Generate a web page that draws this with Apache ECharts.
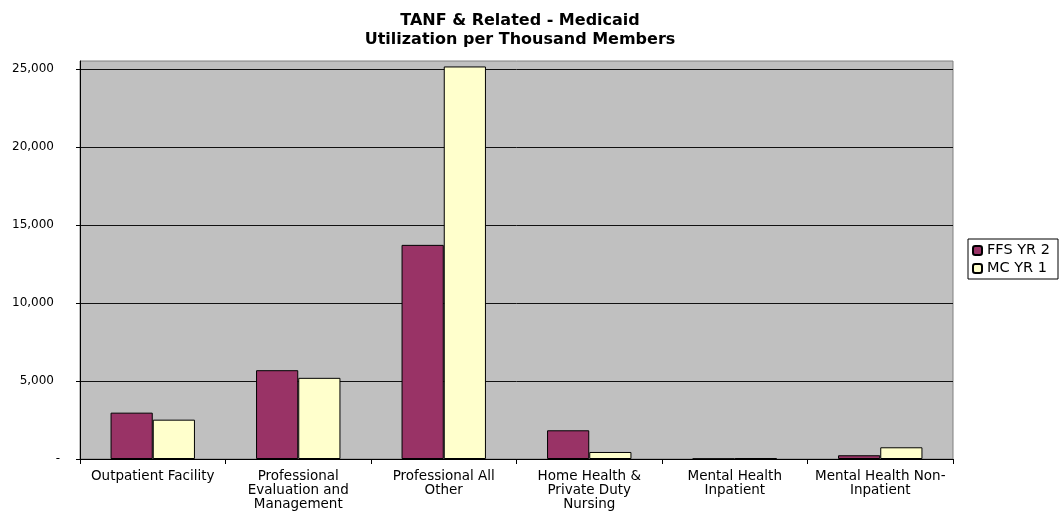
<!DOCTYPE html>
<html>
<head>
<meta charset="utf-8">
<script src="https://cdn.jsdelivr.net/npm/echarts@6/dist/echarts.min.js"></script>
<style>html,body{margin:0;padding:0;background:#fff}#c{width:1062px;height:511px}</style>
</head>
<body>
<div id="c"></div>
<script>
const titleLines = ['TANF & Related - Medicaid', 'Utilization per Thousand Members'];
const categories = ['Outpatient Facility', 'Professional\nEvaluation and\nManagement', 'Professional All\nOther', 'Home Health &\nPrivate Duty\nNursing', 'Mental Health\nInpatient', 'Mental Health Non-\nInpatient'];
const seriesNames = ['FFS YR 2', 'MC YR 1'];
const ffsYr2 = [2970, 5690, 13720, 1840, 15, 240];
const mcYr1 = [2520, 5200, 25150, 450, 50, 750];
const yTicks = [0, 5000, 10000, 15000, 20000, 25000];
const yTickLabels = ['-', '5,000', '10,000', '15,000', '20,000', '25,000'];

const font = 'DejaVu Sans';
const chart = echarts.init(document.getElementById('c'));
chart.setOption({
  animation: false,
  backgroundColor: '#ffffff',
  title: {
    text: titleLines.join('\n'),
    left: 515, top: 6, textAlign: 'center',
    textStyle: { fontFamily: font, fontSize: 16, fontWeight: 'bold', color: '#000', lineHeight: 19 }
  },
  legend: {
    data: seriesNames,
    orient: 'vertical',
    left: 968, top: 239,
    itemWidth: 9, itemHeight: 9, itemGap: 3,
    padding: [4, 8, 3, 4],
    borderColor: '#000', borderWidth: 1, backgroundColor: '#fff',
    textStyle: { fontFamily: font, fontSize: 14.5, color: '#000' }
  },
  grid: {
    left: 80, right: 109, top: 61, bottom: 52,
    show: true, backgroundColor: '#C0C0C0', borderColor: '#808080', borderWidth: 1
  },
  xAxis: {
    type: 'category',
    data: categories,
    axisLine: { lineStyle: { color: '#000', width: 1 } },
    axisTick: { show: true, length: 5, lineStyle: { color: '#000' } },
    axisLabel: { fontFamily: font, fontSize: 13.5, color: '#000', margin: 10, lineHeight: 14, interval: 0 }
  },
  yAxis: {
    type: 'value',
    min: 0, max: 25500, interval: 5000,
    axisLine: { show: true, lineStyle: { color: '#000', width: 1 } },
    axisTick: { show: true, length: 4, lineStyle: { color: '#000' } },
    splitLine: { show: true, showMaxLine: false, lineStyle: { color: '#111', width: 1 } },
    axisLabel: {
      showMaxLabel: false,
      fontFamily: font, fontSize: 12, color: '#000', margin: 20,
      formatter: function (v) {
        const i = yTicks.indexOf(v);
        const s = i >= 0 ? yTickLabels[i] : '';
        return v === 0 ? s : '{n|' + s + '}';
      },
      rich: { n: { fontFamily: font, fontSize: 12, color: '#000', padding: [0, 6, 0, 0] } }
    }
  },
  series: [
    {
      name: seriesNames[0], type: 'bar', data: ffsYr2,
      barGap: '0%', barCategoryGap: '42%',
      itemStyle: { color: '#993366', borderColor: '#000', borderWidth: 1 }
    },
    {
      name: seriesNames[1], type: 'bar', data: mcYr1,
      barGap: '0%', barCategoryGap: '42%',
      itemStyle: { color: '#FFFFCC', borderColor: '#000', borderWidth: 1 }
    }
  ]
});
</script>
</body>
</html>
